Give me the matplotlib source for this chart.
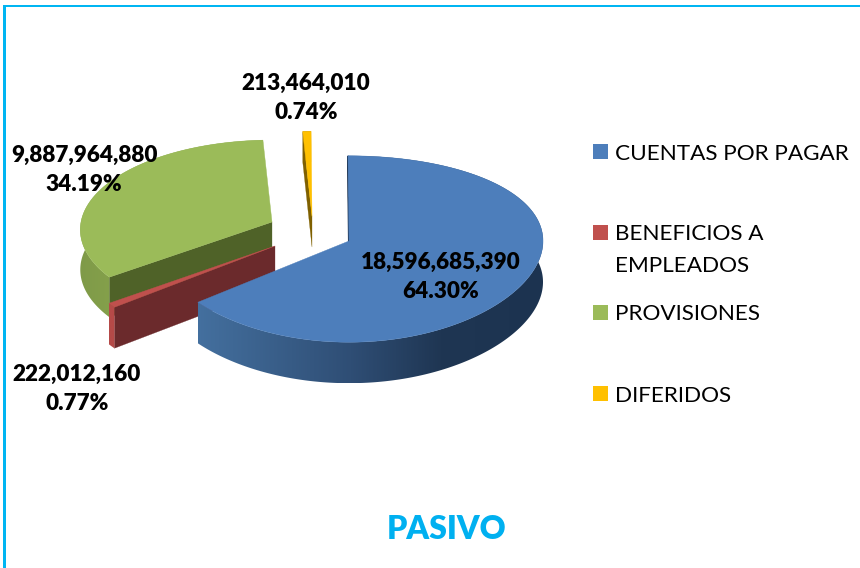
import numpy as np
import matplotlib
matplotlib.use("Agg")
import matplotlib.pyplot as plt
from matplotlib.patches import Polygon, Rectangle

categories = ["CUENTAS POR PAGAR", "BENEFICIOS A\nEMPLEADOS", "PROVISIONES", "DIFERIDOS"]
values = [18596685390, 222012160, 9887964880, 213464010]
title = "PASIVO"

top_colors = ["#4D7EBB", "#C0504D", "#9BBB59", "#FFC000"]
face_colors = ["#1F3552", "#6B2A2C", "#4F6228", "#7F6000"]
side_stops = [
    ([196, 350, 440, 543], ["#44709F", "#2F4E75", "#1F3653", "#1C3350"]),
    ([100, 120], ["#B54A48", "#B54A48"]),
    ([80, 110], ["#7F9A48", "#84A04B"]),
    ([300, 312], ["#7F6000", "#7F6000"]),
]
centers = [(349, 241), (275, 246), (272, 222), (312, 216.5)]
depths = [41, 41, 40, 30.5]
radii_x = [194.0, 195.0, 191.0, 195.0]
radii_y = [92.5, 92.5, 89.0, 92.5]
persp_x = [0.0, 0.086, 0.086, 0.086]
label_pos = [(441, 277), (77, 389), (84, 170), (306, 98)]
legend_y = [151.5, 232.5, 312.5, 393.5]

K = 0.086
START = -0.3

plt.rcParams["font.family"] = ["Lato", "DejaVu Sans"]
fig = plt.figure(figsize=(8.6, 5.68), dpi=100)
ax = fig.add_axes([0, 0, 1, 1])
ax.axis("off")


def proj(i, theta):
    t = np.radians(theta)
    c = centers[i]
    sy = 1 / (1 + K * np.cos(t))
    sx = 1 / (1 + persp_x[i] * np.cos(t))
    return c[0] + radii_x[i] * np.sin(t) * sx, c[1] - radii_y[i] * np.cos(t) * sy


def gradient(stops, x0, x1):
    xs, cols = stops
    rgb = np.array([matplotlib.colors.to_rgb(col) for col in cols])
    grid = np.linspace(x0, x1, 256)
    return np.dstack([np.interp(grid, xs, rgb[:, k]) for k in range(3)])


total = sum(values)
sweeps = [360.0 * v / total for v in values]
starts = START + np.concatenate([[0], np.cumsum(sweeps)[:-1]])

for i in [3, 2, 1, 0]:
    c, d = centers[i], depths[i]
    z = i * -3 + 20
    a0, a1 = starts[i], starts[i] + sweeps[i]
    th = np.linspace(a0, a1, max(int(sweeps[i] * 3), 8))
    ox, oy = proj(i, th)
    # cut face at the start of the slice
    fx, fy = proj(i, a0)
    ax.add_patch(Polygon([(c[0], c[1]), (fx, fy), (fx, fy + d), (c[0], c[1] + d)],
                         closed=True, fc=face_colors[i], ec=face_colors[i],
                         lw=0.8 if i == 0 else 0.2, zorder=z))
    # curved outer face with its horizontal shading
    outline = np.column_stack([np.r_[ox, ox[::-1]], np.r_[oy, oy[::-1] + d]])
    side = Polygon(outline, closed=True, fc="none", ec="none", transform=ax.transData)
    ax.add_patch(side)
    im = ax.imshow(gradient(side_stops[i], ox.min(), ox.max()), aspect="auto",
                   extent=(ox.min(), ox.max(), oy.max() + d, oy.min()),
                   interpolation="bilinear", zorder=z + 1)
    im.set_clip_path(side)
    # top surface
    pts = [(c[0], c[1])] + list(zip(ox, oy))
    ax.add_patch(Polygon(pts, closed=True, fc=top_colors[i], ec=top_colors[i],
                         lw=0.3, zorder=z + 2))

for v, (x, y) in zip(values, label_pos):
    ax.text(x, y, f"{v:,}\n{100 * v / total:.2f}%", ha="center", va="center",
            fontsize=16.2, fontweight="heavy", color="black", linespacing=1.52, zorder=40)

for name, col, y in zip(categories, top_colors, legend_y):
    ax.add_patch(Rectangle((593, y - 7.5), 15, 15, fc=col, ec="none", zorder=30))
    n_lines = name.count("\n")
    ax.text(615, y + 2 + n_lines * 15.5, name, ha="left", va="center", fontsize=16.2,
            color="black", linespacing=1.72, zorder=30)

ax.text(447, 529.5, title, ha="center", va="center", fontsize=23, fontweight="heavy",
        color="#00B0F0", zorder=30)

# frame cropped by the picture edge
ax.add_patch(Rectangle((3, 4.8), 857, 2.5, fc="#00B5F2", ec="none", zorder=50))
ax.add_patch(Rectangle((3, 4.8), 2.5, 564, fc="#00B5F2", ec="none", zorder=50))

ax.set_xlim(0, 860)
ax.set_ylim(568, 0)
fig.savefig("out.png", dpi=100, facecolor="white")
